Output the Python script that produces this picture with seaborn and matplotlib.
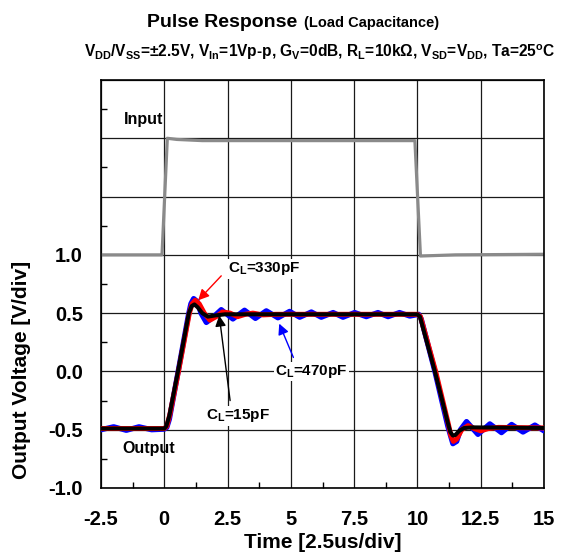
import matplotlib
matplotlib.use('Agg')
import matplotlib.pyplot as plt
from matplotlib.ticker import MultipleLocator
import pandas as pd
import seaborn as sns

# ---------------- data ----------------
t_input = [-2.5, -0.09, 0.12, 0.5, 1.5, 9.9, 10.12, 11.5, 15.0]
v_input = [1.0, 1.0, 2.0, 1.99, 1.98, 1.98, 0.99, 1.0, 1.005]

t_15 = [-2.5, 0.0, 0.08, 0.2, 0.54, 0.97, 1.08, 1.19, 1.32, 1.5,
        1.72, 2.0, 2.4, 10.0, 10.1, 10.69, 11.2, 11.3, 11.4, 11.5,
        11.65, 11.85, 12.2, 15.0]
v_15 = [-0.49, -0.49, -0.47, -0.38, 0.0, 0.5, 0.56, 0.575, 0.55, 0.5,
        0.47, 0.48, 0.49, 0.49, 0.47, 0.0, -0.44, -0.52, -0.55, -0.545,
        -0.51, -0.485, -0.48, -0.485]

t_330 = [-2.5, 0.0, 0.1, 0.22, 0.56, 0.99, 1.1, 1.22, 1.38, 1.58,
         1.8, 2.05, 2.3, 2.6, 2.9, 3.2, 3.5, 3.9, 4.4, 10.0,
         10.12, 10.72, 11.22, 11.32, 11.42, 11.55, 11.75, 12.0, 12.25, 12.5,
         12.8, 13.2, 15.0]
v_330 = [-0.49, -0.49, -0.47, -0.37, 0.0, 0.5, 0.58, 0.61, 0.58, 0.5,
         0.44, 0.47, 0.51, 0.5, 0.47, 0.49, 0.5, 0.485, 0.49, 0.49,
         0.47, 0.0, -0.45, -0.55, -0.6, -0.58, -0.5, -0.465, -0.49, -0.51,
         -0.49, -0.48, -0.485]

t_470 = [-2.5, -2.0, -1.5, -1.0, -0.5, 0.0, 0.1, 0.2, 0.54, 0.95,
         1.05, 1.16, 1.3, 1.45, 1.66, 1.9, 2.25, 2.71, 3.17, 3.6,
         4.03, 4.49, 4.95, 5.35, 5.81, 6.2, 6.67, 7.06, 7.52, 7.98,
         8.44, 8.84, 9.29, 9.7, 10.05, 10.15, 10.69, 11.2, 11.4, 11.55,
         11.7, 11.94, 12.39, 12.86, 13.32, 13.72, 14.17, 14.64, 15.0]
v_470 = [-0.5, -0.475, -0.505, -0.475, -0.5, -0.495, -0.48, -0.41, -0.01, 0.48,
         0.58, 0.625, 0.6, 0.5, 0.42, 0.46, 0.53, 0.45, 0.525, 0.455,
         0.52, 0.46, 0.515, 0.465, 0.51, 0.465, 0.505, 0.465, 0.505, 0.47,
         0.505, 0.47, 0.505, 0.475, 0.49, 0.45, 0.0, -0.47, -0.62, -0.6,
         -0.5, -0.43, -0.54, -0.45, -0.525, -0.455, -0.52, -0.46, -0.51]

x_ticks = [-2.5, 0, 2.5, 5, 7.5, 10, 12.5, 15]
x_tick_labels = ['-2.5', '0', '2.5', '5', '7.5', '10', '12.5', '15']
y_ticks = [-1.0, -0.5, 0.0, 0.5, 1.0, 1.5, 2.0, 2.5]
y_tick_labels = ['-1.0', '-0.5', '0.0', '0.5', '1.0', '', '', '']

# ---------------- style ----------------
sns.set_style('white')
plt.rcParams['font.family'] = ['Liberation Sans', 'DejaVu Sans']
plt.rcParams['font.weight'] = 'bold'
plt.rcParams['text.color'] = 'black'
plt.rcParams['axes.labelcolor'] = 'black'
plt.rcParams['xtick.color'] = 'black'
plt.rcParams['ytick.color'] = 'black'
plt.rcParams['mathtext.fontset'] = 'custom'
plt.rcParams['mathtext.rm'] = 'Liberation Sans:bold'
plt.rcParams['mathtext.it'] = 'Liberation Sans:bold'
plt.rcParams['mathtext.bf'] = 'Liberation Sans:bold'
plt.rcParams['mathtext.sf'] = 'Liberation Sans:bold'

W, H = 570, 559
fig = plt.figure(figsize=(W / 100, H / 100), dpi=100)
L, R, T, B = 101, 544, 80, 488
ax = fig.add_axes([L / W, 1 - B / H, (R - L) / W, (B - T) / H])

series = [
    (t_input, v_input, '#8a8a8a', 2.3, 2),
    (t_470, v_470, '#0000ff', 3.8, 3),
    (t_330, v_330, '#ff0000', 3.6, 4),
    (t_15, v_15, '#000000', 2.9, 5),
]
for t, v, c, lw, z in series:
    df = pd.DataFrame({'t': t, 'v': v})
    sns.lineplot(data=df, x='t', y='v', ax=ax, color=c, lw=lw,
                 estimator=None, sort=False, zorder=z)

ax.set_xlim(-2.5, 15)
ax.set_ylim(-1.0, 2.5)
ax.set_xticks(x_ticks, labels=x_tick_labels)
ax.set_yticks(y_ticks, labels=y_tick_labels)
ax.xaxis.set_minor_locator(MultipleLocator(1.25))
ax.yaxis.set_minor_locator(MultipleLocator(0.25))
ax.tick_params(which='major', length=0, labelsize=14.5, labelcolor='black')
ax.tick_params(axis='x', which='major', pad=16)
ax.tick_params(axis='y', which='major', pad=13)
ax.tick_params(which='minor', direction='in', length=4, width=1,
               color='black', bottom=True, left=True)
for lab in ax.get_xticklabels() + ax.get_yticklabels():
    lab.set_fontweight('bold')
ax.grid(which='major', color='#1a1a1a', lw=0.9)
ax.set_axisbelow(True)
for s in ax.spines.values():
    s.set_color('black')
    s.set_linewidth(1.2)

ax.set_xlabel('Time [2.5us/div]', fontsize=15, fontweight='bold', color='black')
ax.set_ylabel('Output Voltage [V/div]', fontsize=15, fontweight='bold', color='black')
ax.xaxis.set_label_coords(0.5, (B - 533) / (B - T))
ax.yaxis.set_label_coords((31 - L) / (R - L), (B - 370) / (B - T))

# ---------------- annotations ----------------
ax.text(-0.83, 2.16, 'Input', fontsize=11.5, fontweight='bold',
        ha='center', va='center', color='black')
ax.text(-0.6, -0.66, 'Output', fontsize=11.5, fontweight='bold',
        ha='center', va='center', color='black')

box = dict(facecolor='white', edgecolor='none', pad=1)
ax.text(3.95, 0.88, r'C$_{\mathrm{L}}$=330pF', fontsize=11, fontweight='bold',
        ha='center', va='center', bbox=box, zorder=6, color='black')
ax.text(5.81, 0.0, r'C$_{\mathrm{L}}$=470pF', fontsize=11, fontweight='bold',
        ha='center', va='center', bbox=box, zorder=6, color='black')
ax.text(2.92, -0.38, r'C$_{\mathrm{L}}$=15pF', fontsize=11, fontweight='bold',
        ha='center', va='center', bbox=box, zorder=6, color='black')

ax.annotate('', xy=(1.34, 0.61), xytext=(2.25, 0.82),
            arrowprops=dict(arrowstyle='-|>', color='#ff0000', lw=1,
                            mutation_scale=16, shrinkA=0, shrinkB=0), zorder=7)
ax.annotate('', xy=(4.54, 0.41), xytext=(5.1, 0.12),
            arrowprops=dict(arrowstyle='-|>', color='#0000ff', lw=1,
                            mutation_scale=16, shrinkA=0, shrinkB=0), zorder=7)
ax.annotate('', xy=(2.17, 0.48), xytext=(2.6, -0.25),
            arrowprops=dict(arrowstyle='-|>', color='#000000', lw=1,
                            mutation_scale=16, shrinkA=0, shrinkB=0), zorder=7)

# ---------------- titles ----------------
fig.text(147 / W, 1 - 27 / H, 'Pulse Response', fontsize=14, fontweight='bold',
         ha='left', va='baseline', color='black')
fig.text(304 / W, 1 - 27 / H, '(Load Capacitance)', fontsize=10.5,
         fontweight='bold', ha='left', va='baseline', color='black')
sub = (r'V$_{\mathrm{DD}}$/V$_{\mathrm{SS}}$=±2.5V, V$_{\mathrm{In}}$=1Vp-p, '
       r'G$_{\mathrm{V}}$=0dB, R$_{\mathrm{L}}$=10kΩ, V$_{\mathrm{SD}}$=V$_{\mathrm{DD}}$, '
       r'Ta=25$^{\mathrm{o}}$C')
fig.text(320 / W, 1 - 57 / H, sub, fontsize=11.2, fontweight='bold',
         ha='center', va='baseline', color='black')

fig.savefig('out.png', dpi=100)
